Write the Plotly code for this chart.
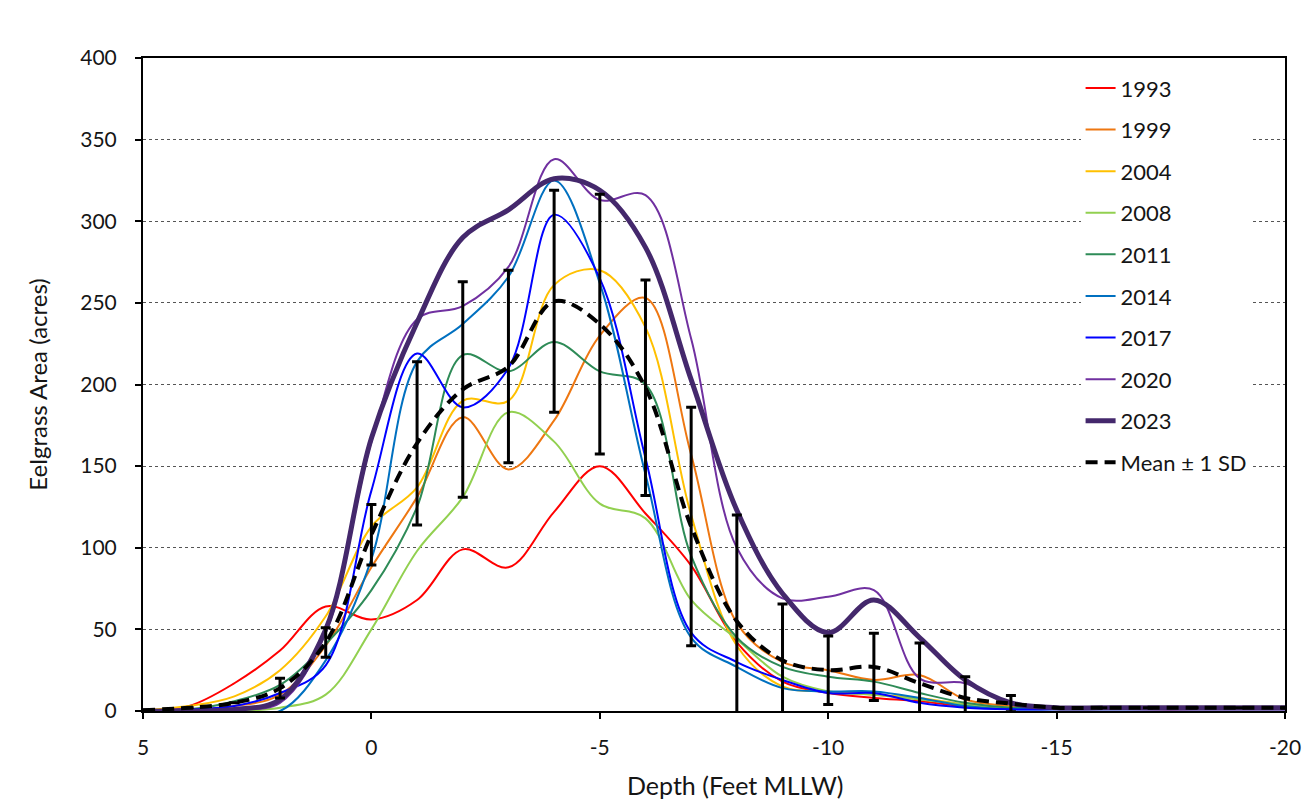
import plotly.graph_objects as go

# Depth (feet MLLW) at which each survey was summarised
depth = [5, 4, 3, 2, 1, 0, -1, -2, -3, -4, -5, -6, -7, -8, -9, -10,
         -11, -12, -13, -14, -15, -16, -17, -18, -19, -20]

y1993 = [0.5, 3, 17, 37, 64, 56, 68, 99, 88, 122, 150, 121, 89, 42, 18, 11,
         8, 6, 3, 2, 1.5, 1.5, 1, 1, 1, 1]
y1999 = [0.5, 1, 3, 10, 40, 88, 131, 180, 148, 178, 230, 253, 157, 54, 30, 25,
         19, 22, 7, 3, 2, 2, 2, 2, 2, 2]
y2004 = [0.5, 3, 9, 25, 58, 113, 137, 190, 190, 261, 270, 235, 120, 40, 15, 12,
         10, 8, 4, 2, 2, 2, 2, 2, 2, 2]
y2008 = [0, 0, 0, 2, 10, 50, 98, 131, 183, 165, 127, 118, 68, 44, 21, 12,
         10, 7, 4, 2, 2, 2, 2, 2, 2, 2]
y2011 = [0.5, 1, 6, 16, 41, 74, 125, 218, 208, 226, 208, 200, 95, 45, 27, 21,
         18, 11, 5, 2, 2, 2, 2, 2, 2, 2]
y2014 = [0, 0, 0, 0, 31, 93, 214, 237, 266, 325, 262, 145, 45, 27, 14, 12,
         12, 8, 3, 1, 1, 1, 1, 1, 1, 1]
y2017 = [0.5, 1, 3, 11, 28, 135, 219, 186, 210, 304, 265, 155, 48, 30, 19, 11,
         11, 5, 2, 1, 1, 1, 1, 1, 1, 1]
y2020 = [0, 0, 1, 5, 48, 165, 240, 248, 272, 338, 313, 316, 228, 100, 69, 70,
         74, 20, 17, 4, 2, 2, 2, 2, 2, 2]
y2023 = [0, 0, 1, 7, 50, 167, 238, 290, 307, 326, 319, 284, 203, 123, 72, 48,
         68, 45, 19, 5, 2, 2, 2, 2, 2, 2]

mean_area = [0.5, 2, 5, 14, 42, 108, 164, 197, 211, 251, 237, 198, 113, 55, 31, 25,
             27, 17, 8, 4.5, 2, 2, 2, 2, 2, 2]
sd_area = [None, None, None, 6, 9, 18.5, 50, 66, 59, 68, 79.5, 66, 73, 65, 34.5, 21,
           20.6, 24.6, 13, 5, None, None, None, None, None, None]

years = ["1993", "1999", "2004", "2008", "2011", "2014", "2017", "2020", "2023"]
x_tick_vals = [5, 0, -5, -10, -15, -20]
x_tick_labels = ["5", "0", "-5", "-10", "-15", "-20"]
y_tick_vals = [0, 50, 100, 150, 200, 250, 300, 350, 400]

series = [y1993, y1999, y2004, y2008, y2011, y2014, y2017, y2020, y2023]
colors = ["#FF0000", "#EE7711", "#FFC000", "#92D050", "#2E8B57",
          "#0070C0", "#0000FF", "#7030A0", "#44286C"]
widths = [2, 2, 2, 2, 2, 2, 2, 2, 5]

FONT = "Lato"
TXT = "#151515"

fig = go.Figure()
for name, vals, col, w in zip(years, series, colors, widths):
    fig.add_trace(go.Scatter(
        x=depth, y=vals, mode="lines", name=name, legendgroup=name,
        line=dict(color=col, width=w, shape="spline", smoothing=1),
    ))

fig.add_trace(go.Scatter(
    x=depth, y=mean_area, mode="lines", name="Mean \u00b1 1 SD", legendgroup="mean",
    line=dict(color="black", width=4, shape="spline", smoothing=1, dash="12px,7px"),
    error_y=dict(type="data", array=sd_area, visible=True, color="black",
                 thickness=3, width=5),
))

fig.add_annotation(
    text="Depth (Feet MLLW)", xref="paper", yref="paper",
    x=0.518, y=-0.113, xanchor="center", yanchor="middle", showarrow=False,
    font=dict(family=FONT, size=25, color=TXT),
)

fig.update_layout(
    width=1304, height=804,
    margin=dict(l=143, r=19, t=58, b=93),
    paper_bgcolor="white", plot_bgcolor="white",
    font=dict(family=FONT, color=TXT),
    showlegend=True,
    legend=dict(
        x=0.821, y=0.986, xanchor="left", yanchor="top",
        bgcolor="white", borderwidth=0,
        font=dict(family=FONT, size=22, color=TXT),
        tracegroupgap=10,
    ),
    xaxis=dict(
        range=[5, -20], tickvals=x_tick_vals, ticktext=x_tick_labels,
        ticks="outside", ticklen=6, tickwidth=1.5, tickcolor="black",
        showline=True, mirror=True, linecolor="black", linewidth=2,
        showgrid=False, zeroline=False, automargin=False,
        tickfont=dict(family=FONT, size=21, color=TXT),
        ticklabelstandoff=11,
    ),
    yaxis=dict(
        range=[0, 400], tickvals=y_tick_vals,
        ticks="outside", ticklen=6, tickwidth=1.5, tickcolor="black",
        showline=True, mirror=True, linecolor="black", linewidth=2,
        showgrid=True, gridcolor="#555555", gridwidth=1, griddash="dot",
        zeroline=False, automargin=False,
        tickfont=dict(family=FONT, size=21, color=TXT),
        ticklabelstandoff=14,
        title=dict(text="Eelgrass Area (acres)", font=dict(family=FONT, size=24, color=TXT),
                   standoff=26),
    ),
)

fig.write_html("out.html")
